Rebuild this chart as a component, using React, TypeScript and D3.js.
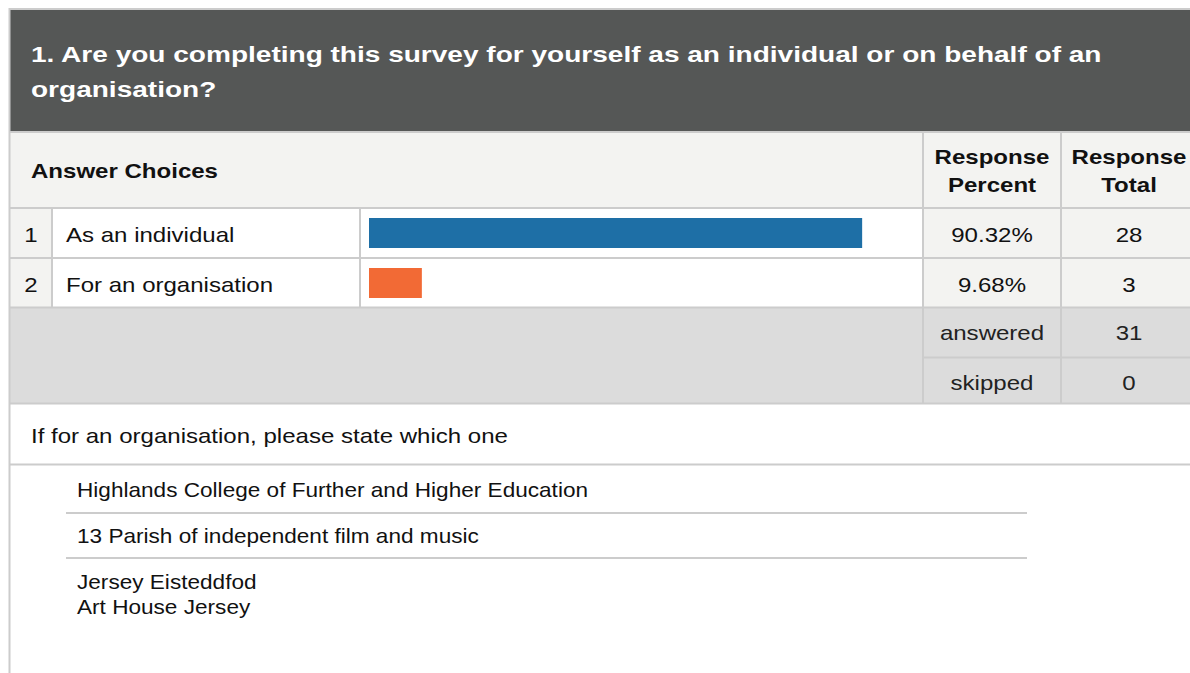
import React from "react";
import * as d3 from "d3";

const title = ["1. Are you completing this survey for yourself as an individual or on behalf of an", "organisation?"];
const choices = ["As an individual", "For an organisation"];
const percents = [90.32, 9.68];
const totals = [28, 3];
const barColors = ["#1e6fa6", "#f26a35"];
const summaryLabels = ["answered", "skipped"];
const summaryValues = [31, 0];
const commentPrompt = "If for an organisation, please state which one";
const comments = [["Highlands College of Further and Higher Education"], ["13 Parish of independent film and music"], ["Jersey Eisteddfod", "Art House Jersey"]];

const FONT = "Liberation Sans, Arial, sans-serif";
const BORDER = "#cccccc";

function T({ x, y, children, size = 21, sx = 1.145, weight = 400, fill = "#111", anchor = "start" }: any) {
  return (
    <g transform={`translate(${x},${y}) scale(${sx},1)`}>
      <text x={0} y={0} fontFamily={FONT} fontSize={size} fontWeight={weight} fill={fill} textAnchor={anchor}>
        {children}
      </text>
    </g>
  );
}

export default function App() {
  const W = 1190, H = 673;
  const x = d3.scaleLinear().domain([0, 100]).range([369, 915]);
  const rowY = d3.scaleLinear().domain([0, 1]).range([209, 259]);
  const rowH = 48;
  const sumY = d3.scaleLinear().domain([0, 1]).range([308, 358]);
  const colPct = 923, colTot = 1061;
  const cPct = (colPct + colTot) / 2, cTot = 1129;
  return (
    <svg width={W} height={H} style={{ position: "absolute", left: 0, top: 0 }}>
      <rect x={0} y={0} width={W} height={H} fill="#fff" />
      {/* title */}
      <rect x={10} y={10} width={W - 10} height={121} fill="#555756" />
      {title.map((t, i) => (
        <T key={i} x={31} y={62 + i * 35} size={22} sx={1.275} weight={700} fill="#fff">{t}</T>
      ))}
      {/* header */}
      <rect x={10} y={133} width={W - 10} height={75} fill="#f3f3f1" />
      <T x={31} y={178} weight={700}>Answer Choices</T>
      <T x={cPct} y={164} weight={700} anchor="middle">Response</T>
      <T x={cPct} y={192} weight={700} anchor="middle">Percent</T>
      <T x={cTot} y={164} weight={700} anchor="middle">Response</T>
      <T x={cTot} y={192} weight={700} anchor="middle">Total</T>
      {/* rows */}
      {choices.map((c, i) => {
        const y0 = rowY(i);
        return (
          <g key={c}>
            <rect x={10} y={y0} width={42} height={rowH} fill="#f3f3f1" />
            <rect x={colPct} y={y0} width={W - colPct} height={rowH} fill="#f3f3f1" />
            <T x={31} y={y0 + 33} anchor="middle">{i + 1}</T>
            <T x={66} y={y0 + 33}>{c}</T>
            <rect x={x(0)} y={y0 + 9} width={x(percents[i]) - x(0)} height={30} fill={barColors[i]} />
            <T x={cPct} y={y0 + 33} anchor="middle">{percents[i].toFixed(2) + "%"}</T>
            <T x={cTot} y={y0 + 33} anchor="middle">{totals[i]}</T>
          </g>
        );
      })}
      {/* summary */}
      <rect x={10} y={308} width={W - 10} height={95} fill="#dcdcdc" />
      {summaryLabels.map((s, i) => (
        <g key={s}>
          <T x={cPct} y={sumY(i) + 32} anchor="middle" fill="#222">{s}</T>
          <T x={cTot} y={sumY(i) + 32} anchor="middle" fill="#222">{summaryValues[i]}</T>
        </g>
      ))}
      {/* grid lines */}
      <g stroke={BORDER} strokeWidth={2}>
        <line x1={10} x2={W} y1={9} y2={9} />
        <line x1={9.5} x2={9.5} y1={8} y2={H} />
        <line x1={10} x2={W} y1={132} y2={132} />
        <line x1={10} x2={W} y1={208} y2={208} />
        <line x1={10} x2={W} y1={258} y2={258} />
        <line x1={10} x2={W} y1={307.5} y2={307.5} />
        <line x1={colPct} x2={W} y1={357.5} y2={357.5} />
        <line x1={10} x2={W} y1={403.5} y2={403.5} />
        <line x1={10} x2={W} y1={464.5} y2={464.5} />
        <line x1={52} x2={52} y1={209} y2={307} />
        <line x1={360} x2={360} y1={209} y2={307} />
        <line x1={colPct} x2={colPct} y1={133} y2={403} />
        <line x1={colTot} x2={colTot} y1={133} y2={403} />
        <line x1={66} x2={1027} y1={513} y2={513} />
        <line x1={66} x2={1027} y1={558} y2={558} />
      </g>
      <T x={31} y={443}>{commentPrompt}</T>
      {comments.map((lines, i) =>
        lines.map((l, j) => (
          <T key={i + "-" + j} x={77} y={497 + i * 46 + j * 25} size={20} sx={1.13}>{l}</T>
        ))
      )}
    </svg>
  );
}
